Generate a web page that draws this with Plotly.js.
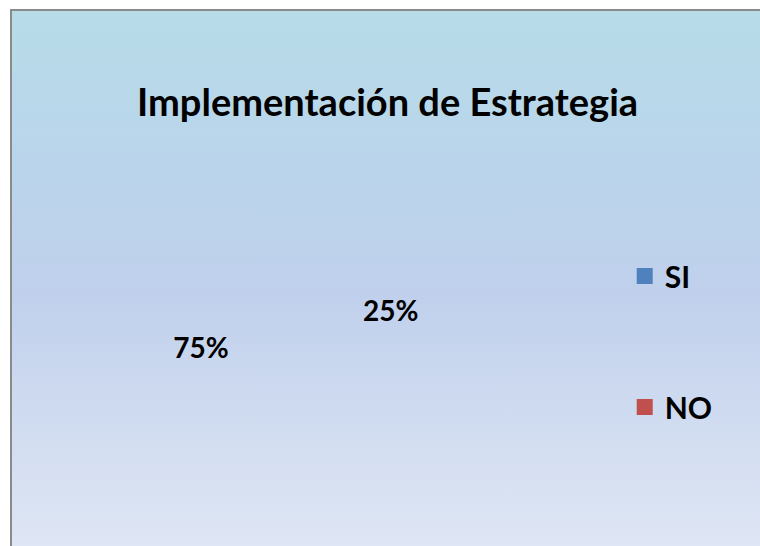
<!DOCTYPE html>
<html>
<head>
<meta charset="utf-8">
<script src="https://cdn.plot.ly/plotly-3.0.1.min.js"></script>
<style>
  html, body { margin: 0; padding: 0; background: #ffffff; width: 760px; height: 546px; overflow: hidden; }
  #frame {
    position: absolute; left: 10px; top: 9px; width: 760px; height: 546px;
    border-left: 2px solid #8a8a8a; border-top: 2px solid #8a8a8a;
    background: linear-gradient(to bottom, #b7dce8 0%, #bad4eb 30%, #c0d0ec 52%, #d3def1 80%, #e0e7f5 100%);
  }
  #chart { position: absolute; left: 0; top: 0; width: 760px; height: 546px; }
</style>
</head>
<body>
<div id="frame"></div>
<div id="chart"></div>
<script>
const categories = ["SI", "NO"];
const values = [75, 25];
const legendColors = ["#4f81bd", "#c0504d"];
const chartTitle = "Implementación de Estrategia";

const fontFam = "Lato, 'Open Sans', 'Liberation Sans', sans-serif";

const pieTrace = {
  type: "pie",
  labels: categories,
  values: values,
  sort: false,
  direction: "clockwise",
  rotation: 124,
  textinfo: "percent",
  texttemplate: "<b>%{percent:.0%}</b>",
  textposition: "inside",
  insidetextorientation: "horizontal",
  textfont: { family: fontFam, size: 28, color: "#000000" },
  marker: { colors: ["rgba(0,0,0,0)", "rgba(0,0,0,0)"], line: { width: 0 } },
  showlegend: false,
  hoverinfo: "label+percent",
  domain: { x: [0.145, 0.614], y: [0.07, 0.722] }
};

const legendTraces = categories.map((c, i) => ({
  type: "scatter",
  mode: "markers",
  x: [null], y: [null],
  name: "<b>" + c + "</b>",
  legendgroup: "g" + i,
  marker: { symbol: "square", size: 20, color: legendColors[i] },
  showlegend: true
}));

const layout = {
  width: 760, height: 546,
  margin: { l: 0, r: 0, t: 0, b: 0 },
  paper_bgcolor: "rgba(0,0,0,0)",
  plot_bgcolor: "rgba(0,0,0,0)",
  title: {
    text: "<b>" + chartTitle + "</b>",
    font: { family: fontFam, size: 38, color: "#000000" },
    x: 0.51, xanchor: "center",
    y: 0.812, yref: "container", yanchor: "middle"
  },
  xaxis: { visible: false },
  yaxis: { visible: false },
  legend: {
    x: 0.822, xanchor: "left",
    y: 1 - 250 / 546, yanchor: "top",
    tracegroupgap: 89,
    font: { family: fontFam, size: 30, color: "#000000" },
    bgcolor: "rgba(0,0,0,0)",
    itemsizing: "trace"
  },
  showlegend: true
};

Plotly.newPlot("chart", [pieTrace].concat(legendTraces), layout, { displayModeBar: false, staticPlot: true });
</script>
</body>
</html>
